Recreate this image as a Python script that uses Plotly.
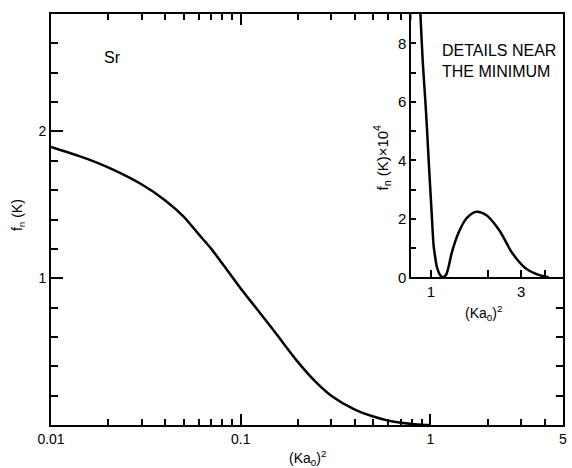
import math
import plotly.graph_objects as go

# Main curve: f_n(K) vs (Ka0)^2 for Sr
main_x = [0.01, 0.015, 0.02, 0.03, 0.04, 0.05, 0.06, 0.07, 0.08, 0.1, 0.12, 0.15,
          0.2, 0.25, 0.3, 0.4, 0.5, 0.6, 0.7, 0.8, 0.9, 1.0]
main_y = [1.895, 1.82, 1.755, 1.64, 1.53, 1.42, 1.30, 1.20, 1.10, 0.93, 0.80, 0.64,
          0.43, 0.29, 0.20, 0.105, 0.058, 0.030, 0.015, 0.007, 0.002, 0.0]

# Inset: details near the minimum, f_n(K) x 10^4
inset_x = [0.86, 0.88, 0.905, 0.934, 0.955, 0.973, 0.995, 1.012, 1.033, 1.053, 1.075,
           1.118, 1.155, 1.202, 1.241, 1.287, 1.395, 1.541, 1.738, 1.96, 2.30, 2.70,
           3.17, 3.72, 4.2]
inset_y = [10.3, 9.0, 7.4, 6.05, 5.0, 4.0, 2.9, 2.07, 1.1, 0.7, 0.36,
           0.08, 0.0, 0.08, 0.36, 0.82, 1.50, 2.01, 2.24, 2.13, 1.61, 0.82,
           0.31, 0.08, 0.0]

main_xticks = [0.01, 0.1, 1, 5]
main_xticktext = ["0.01", "0.1", "1", "5"]
main_yticks = [1, 2]
inset_xticks = [1, 3]
inset_yticks = [0, 2, 4, 6, 8]

minor_x = [m * d for d in (0.01, 0.1, 1) for m in range(2, 10) if m * d < 5]

FONT = "Liberation Sans"

fig = go.Figure()
fig.add_trace(go.Scatter(x=main_x, y=main_y, mode="lines",
                         line=dict(color="black", width=2.5, shape="spline", smoothing=0.8),
                         xaxis="x", yaxis="y", hoverinfo="skip"))
fig.add_trace(go.Scatter(x=inset_x, y=inset_y, mode="lines",
                         line=dict(color="black", width=2.5, shape="spline", smoothing=0.8),
                         xaxis="x2", yaxis="y2", hoverinfo="skip"))

axis_common = dict(showline=True, linecolor="black", linewidth=2, showgrid=False,
                   zeroline=False, ticks="inside", tickcolor="black", tickwidth=1.5)

fig.update_layout(
    width=572, height=468,
    margin=dict(l=51, r=5, t=14, b=43),
    paper_bgcolor="white", plot_bgcolor="white",
    showlegend=False,
    font=dict(family=FONT, size=14, color="black"),
    xaxis=dict(type="log", range=[-2, math.log10(5)], domain=[0, 1], anchor="y",
               mirror="ticks", ticklen=11, tickmode="array",
               tickvals=main_xticks, ticktext=main_xticktext,
               tickfont=dict(size=14),
               minor=dict(ticks="inside", ticklen=6, tickvals=minor_x,
                          tickcolor="black", tickwidth=1.5, showgrid=False),
               **axis_common),
    yaxis=dict(range=[0, 2.8], domain=[0, 1], anchor="x",
               mirror="ticks", ticklen=12, tickmode="array",
               tickvals=main_yticks, tickfont=dict(size=14),
               minor=dict(ticks="inside", ticklen=7, dtick=0.2, tick0=0,
                          tickcolor="black", tickwidth=1.5, showgrid=False),
               **axis_common),
    xaxis2=dict(type="log", range=[math.log10(0.789), math.log10(5)],
                domain=[0.704, 1], anchor="y2", ticklen=7, tickmode="array",
                tickvals=inset_xticks, tickfont=dict(size=15),
                minor=dict(ticks="inside", ticklen=7, tickvals=[2, 4],
                           tickcolor="black", tickwidth=1.5, showgrid=False),
                **axis_common),
    yaxis2=dict(range=[0, 9], domain=[0.3594, 1], anchor="x2", ticklen=5,
                tickmode="array", tickvals=inset_yticks, tickfont=dict(size=15),
                minor=dict(ticks="inside", ticklen=5, dtick=1, tick0=0,
                           tickcolor="black", tickwidth=1.5, showgrid=False),
                **axis_common),
)

def ann(size=14, **kw):
    base = dict(xref="paper", yref="paper", showarrow=False, xanchor="center",
                yanchor="middle", font=dict(family=FONT, size=size, color="black"))
    base.update(kw)
    return base

fig.add_annotation(**ann(16, text="Sr", x=0.1207, y=0.893))
fig.add_annotation(**ann(14, text="f<sub>n</sub> (K)", x=-0.0643, y=0.511, textangle=-90))
fig.add_annotation(**ann(14, text="(Ka<sub>0</sub>)<sup>2</sup>", x=0.5, y=-0.080))
fig.add_annotation(**ann(15, text="f<sub>n</sub> (K)×10<sup>4</sup>", x=0.6455, y=0.652, textangle=-90))
fig.add_annotation(**ann(14, text="(Ka<sub>0</sub>)<sup>2</sup>", x=0.845, y=0.2725))
fig.add_annotation(**ann(16, text="DETAILS NEAR<br>THE MINIMUM", x=0.7597, y=0.8856,
                         align="left", xanchor="left"))

fig.write_html("out.html", config={"displayModeBar": False},
               post_script="document.body.style.margin='0';document.body.style.padding='0';")
